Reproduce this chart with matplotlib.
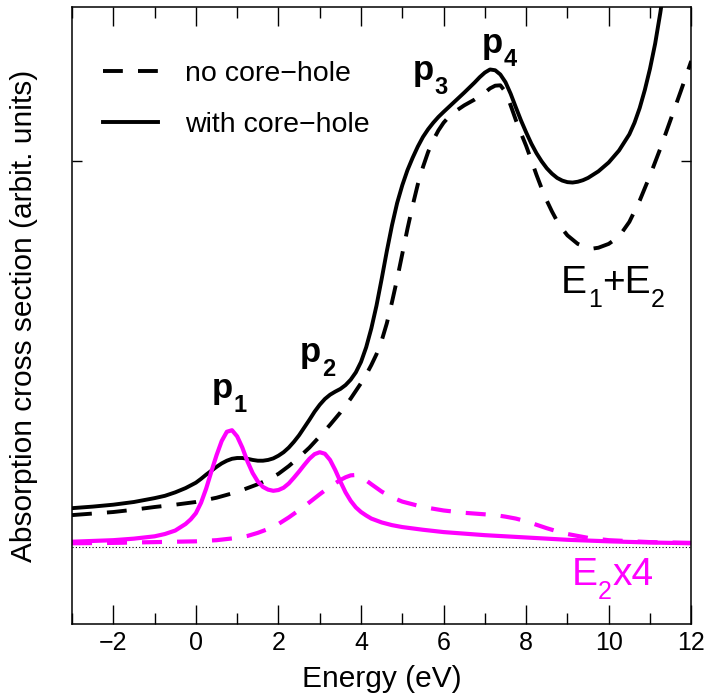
import numpy as np
import matplotlib
matplotlib.use("Agg")
import matplotlib.pyplot as plt
from matplotlib.ticker import MultipleLocator

plt.rcParams['font.family'] = ['Liberation Sans', 'DejaVu Sans']

# total spectrum E1+E2, with core-hole (solid)
e_with = [-3.0, -2.5, -2.0, -1.5, -1.0, -0.75, -0.5, -0.25, 0.0, 0.125, 0.25,
          0.375, 0.5, 0.625, 0.75, 0.875, 1.0, 1.125, 1.25, 1.375, 1.5, 1.625,
          1.75, 1.875, 2.0, 2.125, 2.25, 2.375, 2.5, 2.625, 2.75, 2.875, 3.0,
          3.125, 3.25, 3.375, 3.5, 3.625, 3.75, 3.875, 4.0, 4.125, 4.25, 4.375,
          4.5, 4.625, 4.75, 4.875, 5.0, 5.125, 5.25, 5.375, 5.5, 5.625, 5.75,
          5.875, 6.0, 6.25, 6.5, 6.75, 6.875, 7.0, 7.125, 7.25, 7.375, 7.5,
          7.625, 7.75, 7.875, 8.0, 8.125, 8.25, 8.375, 8.5, 8.625, 8.75, 8.875,
          9.0, 9.125, 9.25, 9.375, 9.5, 9.75, 10.0, 10.25, 10.5, 10.625, 10.75,
          10.875, 11.0, 11.125, 11.25, 11.375]
s_with = [0.101, 0.105, 0.110, 0.117, 0.127, 0.133, 0.142, 0.153, 0.167, 0.177,
          0.188, 0.198, 0.208, 0.217, 0.224, 0.229, 0.231, 0.231, 0.229, 0.226,
          0.224, 0.224, 0.226, 0.230, 0.237, 0.246, 0.258, 0.273, 0.290, 0.310,
          0.330, 0.351, 0.369, 0.384, 0.395, 0.403, 0.410, 0.420, 0.434, 0.453,
          0.480, 0.518, 0.567, 0.626, 0.695, 0.767, 0.834, 0.892, 0.938, 0.977,
          1.009, 1.038, 1.063, 1.083, 1.100, 1.115, 1.128, 1.153, 1.178, 1.204,
          1.218, 1.230, 1.238, 1.236, 1.225, 1.205, 1.175, 1.140, 1.106, 1.075,
          1.046, 1.021, 1.000, 0.982, 0.968, 0.957, 0.950, 0.946, 0.945, 0.947,
          0.951, 0.957, 0.974, 0.997, 1.028, 1.070, 1.100, 1.138, 1.185, 1.240,
          1.305, 1.385, 1.475]

# total spectrum E1+E2, no core-hole (dashed)
e_no = [-3.0, -2.5, -2.0, -1.5, -1.0, -0.5, 0.0, 0.5, 1.0, 1.5, 1.75, 2.0,
        2.25, 2.5, 2.75, 3.0, 3.25, 3.5, 3.75, 4.0, 4.125, 4.25, 4.375, 4.5,
        4.625, 4.75, 4.875, 5.0, 5.125, 5.25, 5.375, 5.5, 5.625, 5.75, 5.875,
        6.0, 6.125, 6.25, 6.5, 6.75, 7.0, 7.125, 7.25, 7.375, 7.5, 7.625, 7.75,
        7.875, 8.0, 8.125, 8.25, 8.375, 8.5, 8.625, 8.75, 8.875, 9.0, 9.25,
        9.5, 9.625, 9.75, 10.0, 10.25, 10.5, 10.75, 11.0, 11.25, 11.5, 11.75,
        12.0]
s_no = [0.083, 0.087, 0.091, 0.097, 0.104, 0.110, 0.117, 0.128, 0.143, 0.163,
        0.175, 0.190, 0.210, 0.233, 0.258, 0.287, 0.317, 0.349, 0.385, 0.425,
        0.447, 0.472, 0.500, 0.535, 0.580, 0.635, 0.695, 0.760, 0.825, 0.885,
        0.940, 0.985, 1.024, 1.055, 1.080, 1.100, 1.115, 1.127, 1.145, 1.160,
        1.178, 1.189, 1.196, 1.197, 1.180, 1.145, 1.107, 1.073, 1.040, 1.003,
        0.965, 0.930, 0.898, 0.870, 0.845, 0.825, 0.808, 0.786, 0.775, 0.774,
        0.776, 0.786, 0.805, 0.843, 0.898, 0.963, 1.033, 1.108, 1.183, 1.260]

# E2 component x4, with core-hole (solid magenta)
e2_with_e = [-3.0, -2.5, -2.0, -1.5, -1.0, -0.75, -0.5, -0.25, -0.125, 0.0,
             0.125, 0.25, 0.375, 0.5, 0.625, 0.75, 0.875, 1.0, 1.125, 1.25,
             1.375, 1.5, 1.625, 1.75, 1.875, 2.0, 2.125, 2.25, 2.375, 2.5,
             2.625, 2.75, 2.875, 3.0, 3.125, 3.25, 3.375, 3.5, 3.625, 3.75,
             3.875, 4.0, 4.125, 4.25, 4.5, 4.75, 5.0, 5.5, 6.0, 7.0, 8.0, 9.0,
             10.0, 11.0, 12.0]
e2_with = [0.014, 0.016, 0.018, 0.022, 0.028, 0.034, 0.043, 0.060, 0.072, 0.088,
           0.115, 0.152, 0.196, 0.238, 0.275, 0.299, 0.303, 0.287, 0.258, 0.222,
           0.192, 0.170, 0.156, 0.149, 0.146, 0.148, 0.154, 0.165, 0.180, 0.196,
           0.213, 0.229, 0.241, 0.246, 0.242, 0.226, 0.200, 0.170, 0.142, 0.120,
           0.103, 0.091, 0.082, 0.074, 0.064, 0.057, 0.052, 0.045, 0.039, 0.031,
           0.025, 0.019, 0.015, 0.012, 0.010]

# E2 component x4, no core-hole (dashed magenta)
e2_no_e = [-3.0, -2.0, -1.0, 0.0, 0.5, 1.0, 1.25, 1.5, 1.75, 2.0, 2.25, 2.5,
           2.75, 3.0, 3.25, 3.5, 3.625, 3.75, 3.875, 4.0, 4.125, 4.25, 4.5,
           4.75, 5.0, 5.5, 6.0, 6.5, 7.0, 7.25, 7.5, 7.75, 8.0, 8.25, 8.5,
           8.75, 9.0, 9.5, 10.0, 11.0, 12.0]
e2_no = [0.010, 0.011, 0.013, 0.015, 0.018, 0.024, 0.029, 0.037, 0.047, 0.060,
         0.077, 0.096, 0.116, 0.137, 0.157, 0.174, 0.181, 0.186, 0.187, 0.182,
         0.173, 0.163, 0.144, 0.129, 0.118, 0.104, 0.095, 0.089, 0.085, 0.083,
         0.079, 0.074, 0.067, 0.058, 0.049, 0.041, 0.034, 0.024, 0.018, 0.013,
         0.011]

peak_labels = ['1', '2', '3', '4']
peak_pos = [(0.39, 0.386), (2.52, 0.479), (5.25, 1.21), (6.92, 1.282)]

MAGENTA = '#ff00ff'


def label_with_subs(x, y, pieces, size, subsize, drop, **kw):
    """Write text made of (string, is_subscript) pieces, starting at (x, y)."""
    first = ax.text(x, y, pieces[0][0], fontsize=size, ha='left', va='baseline', **kw)
    prev = first
    for txt, is_sub in pieces[1:]:
        if is_sub:
            prev = ax.annotate(txt, xy=(1, 0), xycoords=prev, xytext=(0.5, -drop),
                               textcoords='offset points', fontsize=subsize,
                               ha='left', va='baseline', **kw)
        else:
            prev = ax.annotate(txt, xy=(1, 0), xycoords=(prev, first), xytext=(0, 0),
                               textcoords='offset points', fontsize=size,
                               ha='left', va='bottom', **kw)


fig = plt.figure(figsize=(7.09, 6.98), dpi=100)
ax = fig.add_axes([0.1016, 0.1056, 0.8734, 0.8844])

ax.axhline(0, color='black', lw=0.8, ls=(0, (1, 2)))
ax.plot(e_no, s_no, color='black', lw=2.8, dashes=(5.1, 3.9), label='no core\u2212hole')
ax.plot(e_with, s_with, color='black', lw=2.8, label='with core\u2212hole')
ax.plot(e2_no_e, e2_no, color=MAGENTA, lw=3.0, dashes=(4.8, 3.6))
ax.plot(e2_with_e, e2_with, color=MAGENTA, lw=3.0)

for lab, (px, py) in zip(peak_labels, peak_pos):
    label_with_subs(px, py, [('p', False), (lab, True)], 25, 17, 4.8,
                    fontweight='bold')

label_with_subs(8.85, 0.658, [('E', False), ('1', True), ('+E', False), ('2', True)],
                28, 18, 4.0)
label_with_subs(9.10, -0.098, [('E', False), ('2', True), ('x4', False)],
                28, 18, 4.5, color=MAGENTA)

ax.set_xlim(-3, 12)
ax.set_ylim(-0.2, 1.4)
ax.xaxis.set_major_locator(MultipleLocator(2))
ax.xaxis.set_minor_locator(MultipleLocator(1))
ax.set_yticks([1.0])
ax.set_yticklabels([])
ax.tick_params(axis='x', which='major', direction='in', length=14, width=1,
               top=True, labelsize=18, pad=5)
ax.tick_params(axis='x', which='minor', direction='in', length=8, width=1, top=True)
ax.tick_params(axis='y', direction='in', length=7, width=1, right=True)
for sp in ax.spines.values():
    sp.set_linewidth(1.1)

ax.set_xlabel('Energy (eV)', fontsize=21.5, labelpad=7)
ax.set_ylabel('Absorption cross section (arbit. units)', fontsize=21.5, labelpad=21)

ax.legend(loc='upper left', bbox_to_anchor=(0.05, 0.913), frameon=False,
          fontsize=20.5, handlelength=1.93, handletextpad=0.95, labelspacing=0.9,
          borderpad=0, borderaxespad=0)

fig.savefig('out.png', dpi=100)
